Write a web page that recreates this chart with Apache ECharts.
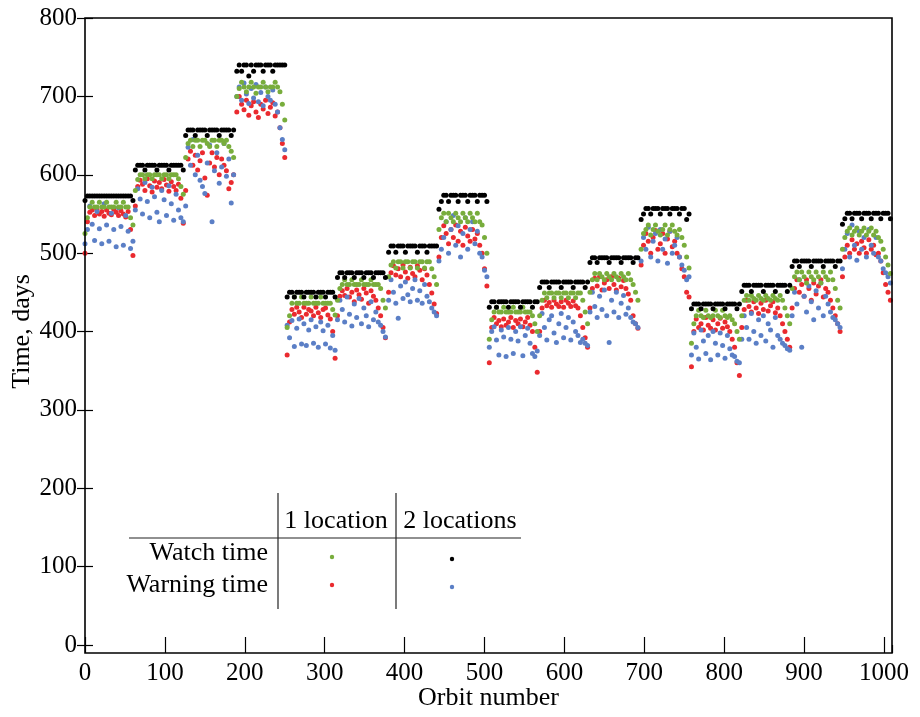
<!DOCTYPE html>
<html lang="en">
<head>
    <meta charset="UTF-8">
    <title>Watch and warning time</title>
    <script src="https://cdn.jsdelivr.net/npm/echarts@6.0.0/dist/echarts.min.js"></script>
    <style>
        html, body { margin: 0; padding: 0; background: #fff; }
        #chart { width: 920px; height: 717px; }
    </style>
</head>
<body>
    <div id="chart"></div>
    <script type="text/javascript">
        // orbit number where each block of orbits starts, values read every 3 orbits
        var blockStart = [0, 63, 126, 190, 253, 316, 380, 443, 506, 569, 632, 696, 759, 822, 885, 948];
        var orbitStep = 3;

        // watch time, 2 locations (black)
        var watch2 = [
            [567,573,573,573,573,573,573,573,573,573,573,573,573,573,573,573,573,573,573,573,567],
            [606,612,612,612,606,612,612,612,612,606,612,612,612,612,606,612,612,612,612,612,606],
            [650,657,657,657,650,657,657,657,657,650,657,657,657,657,650,657,657,657,657,650,657],
            [732,740,732,740,740,726,740,732,740,740,740,732,740,740,740,732,740,740,740,740,740],
            [444,450,450,444,450,450,450,444,450,450,450,450,444,450,450,450,444,450,450,450,444],
            [469,475,475,469,475,475,475,469,475,475,475,469,475,475,475,469,475,475,475,475,469],
            [501,509,509,501,509,509,509,501,509,509,509,509,501,509,509,509,501,509,509,509,509],
            [556,566,574,574,566,574,574,574,566,574,574,574,566,574,574,574,566,574,574,574,566],
            [431,438,438,431,438,438,438,438,431,438,438,438,438,431,438,438,438,438,431,438,438],
            [456,463,463,463,456,463,463,463,463,456,463,463,463,463,456,463,463,463,463,456,463],
            [488,494,494,488,494,494,494,494,488,494,494,494,494,488,494,494,494,494,488,494,494],
            [543,550,557,557,550,557,557,557,550,557,557,557,550,557,557,557,550,557,557,543,550],
            [429,435,435,435,429,435,435,435,435,429,435,435,435,435,429,435,435,435,435,429,435],
            [451,459,459,459,451,459,459,459,459,451,459,459,459,459,451,459,459,459,459,451,459],
            [483,490,490,483,490,490,490,490,483,490,490,490,490,483,490,490,490,490,483,490,490],
            [537,544,551,551,544,551,551,551,544,551,551,551,544,551,551,551,544,551,551,551,544]
        ];

        // watch time, 1 location (green)
        var watch1 = [
            [525,545,559,565,559,559,565,559,559,565,559,559,559,565,559,559,565,559,559,545,536],
            [580,594,600,600,595,600,600,595,600,600,600,595,600,600,595,600,600,600,595,585,575],
            [622,640,644,636,644,644,636,644,644,640,636,644,644,636,644,644,640,644,636,630,622],
            [700,710,718,712,706,712,718,712,704,712,712,718,712,706,712,712,718,712,706,690,670],
            [405,420,436,444,436,436,444,436,436,436,444,436,436,436,444,436,436,436,436,428,421],
            [440,455,460,466,460,460,466,460,460,460,466,460,460,460,466,460,460,460,455,440,430],
            [470,485,489,481,489,489,481,489,489,481,489,489,481,489,489,481,489,489,480,470,460],
            [530,545,551,540,551,545,540,551,545,540,551,545,540,551,545,540,551,540,536,520,500],
            [390,415,425,431,425,425,431,425,425,425,431,425,425,425,431,425,425,425,420,410,400],
            [420,440,449,443,449,449,443,449,449,443,449,449,443,449,449,443,449,449,440,425,410],
            [450,466,474,466,474,470,466,474,470,466,474,470,466,474,470,466,474,466,460,450,440],
            [505,525,530,536,523,530,536,528,523,530,536,523,530,536,528,523,530,520,510,495,481],
            [385,410,420,427,420,418,427,420,418,420,427,420,418,427,420,418,420,415,410,400,390],
            [420,440,446,440,446,442,440,446,442,440,446,442,440,446,442,440,446,440,430,420,410],
            [455,470,476,466,476,470,462,476,470,466,476,470,462,476,470,466,476,466,455,440,430],
            [505,520,528,532,523,528,532,523,528,532,523,528,532,523,528,520,515,505,495,485,474]
        ];

        // warning time, 1 location (red)
        var warn1 = [
            [500,540,552,555,548,556,550,553,547,555,551,549,556,552,548,554,550,546,553,530,497],
            [560,585,593,588,580,595,586,578,592,584,590,582,594,587,579,591,585,580,588,570,538],
            [580,620,630,612,625,606,618,628,596,574,615,628,610,622,600,620,612,605,582,590,600],
            [680,700,690,683,695,676,688,693,680,673,690,684,695,678,686,692,675,680,660,640,622],
            [370,412,428,422,431,425,418,431,422,428,426,420,431,424,418,428,430,421,416,400,366],
            [420,445,452,446,455,444,450,438,453,447,441,455,449,436,452,445,440,430,420,405,392],
            [450,475,484,472,480,470,485,476,468,482,474,470,484,478,466,480,472,460,449,435,423],
            [495,520,535,525,512,530,520,536,515,528,510,533,522,515,530,518,525,510,500,480,458],
            [360,405,418,410,414,406,416,408,412,418,405,414,410,416,406,412,418,408,400,380,348],
            [400,430,440,433,437,431,440,435,432,438,431,440,436,432,439,433,430,420,405,392,380],
            [430,455,468,458,470,453,462,466,455,470,460,453,468,457,465,455,448,440,420,410,404],
            [485,510,525,515,500,520,529,505,512,525,500,518,528,508,515,500,495,480,470,450,444],
            [355,400,416,405,410,402,418,408,404,415,402,410,417,404,412,406,400,390,380,360,344],
            [405,428,440,432,425,438,430,423,436,428,440,426,433,438,424,430,420,410,400,390,380],
            [430,455,466,450,460,445,466,455,440,462,448,458,466,444,455,450,440,430,420,410,400],
            [470,495,510,500,517,505,512,500,515,507,500,517,505,510,498,500,490,475,460,450,440]
        ];

        // warning time, 2 locations (blue)
        var warn2 = [
            [512,530,560,537,516,553,531,512,563,536,515,551,530,508,558,534,510,548,528,506,515],
            [555,582,569,550,590,566,545,584,572,552,540,580,568,548,586,563,542,575,555,545,540],
            [560,635,612,645,600,625,593,585,576,615,638,540,605,628,589,610,640,598,620,564,600],
            [700,712,695,717,703,691,710,698,715,693,705,688,712,700,695,708,690,680,660,645,632],
            [408,392,414,381,404,416,384,410,382,402,415,385,406,380,412,401,384,408,379,395,376],
            [415,440,428,412,444,422,407,435,418,442,410,430,420,406,438,415,425,412,408,400,393],
            [440,466,450,436,417,458,442,463,447,438,455,466,440,452,436,460,445,438,430,425,420],
            [490,505,520,540,500,530,548,510,535,495,525,545,505,530,540,512,528,500,495,478,470],
            [380,400,406,389,370,402,393,368,405,390,372,400,388,406,369,395,404,385,372,368,375],
            [395,423,405,389,415,420,398,386,410,423,392,405,418,389,412,400,395,386,390,385,382],
            [425,450,432,418,445,428,453,420,386,440,425,450,418,436,446,422,430,418,412,410,405],
            [490,520,505,533,495,515,525,490,530,505,518,487,528,500,510,520,495,485,478,466,470],
            [370,398,380,365,402,388,372,395,364,400,385,370,398,382,366,395,378,370,368,362,360],
            [390,420,405,390,423,400,385,415,395,420,388,410,402,380,418,395,390,385,382,378,376],
            [420,450,435,466,380,445,425,458,438,415,452,430,462,420,445,435,425,418,415,410,405],
            [480,505,525,495,536,510,491,528,505,520,495,530,510,500,520,495,490,480,475,470,462]
        ];

        var xTicks = { min: 0, max: 1010, interval: 100 };
        var yTicks = { min: 0, max: 800, interval: 100 };

        function toPoints(blocks) {
            var pts = [];
            blocks.forEach(function (vals, b) {
                vals.forEach(function (v, i) {
                    pts.push([blockStart[b] + i * orbitStep, v]);
                });
            });
            return pts;
        }

        var serif = 'Liberation Serif';
        var myChart = echarts.init(document.getElementById('chart'));

        function dotSeries(name, blocks, color) {
            return {
                name: name,
                type: 'scatter',
                data: toPoints(blocks),
                symbolSize: 5,
                itemStyle: { color: color, opacity: 1 },
                emphasis: { disabled: true },
                silent: true
            };
        }

        // plain numbers, no thousands separator
        function plain(v) { return String(v); }

        var tickStyle = { show: true, inside: true, length: 8, lineStyle: { color: '#000', width: 1.2 } };

        var option = {
            animation: false,
            backgroundColor: '#fff',
            // keep the plot rect fixed, labels may sit outside it
            grid: { left: 85, right: 28, top: 18, bottom: 72, containLabel: false, outerBoundsMode: 'none' },
            xAxis: [
                {
                    type: 'value', position: 'bottom', offset: 8,
                    min: xTicks.min, max: xTicks.max, interval: xTicks.interval,
                    axisLine: { show: false }, axisTick: tickStyle, splitLine: { show: false },
                    axisLabel: { color: '#000', fontFamily: serif, fontSize: 25, margin: 8, showMaxLabel: false, formatter: plain },
                    name: 'Orbit number', nameLocation: 'middle', nameGap: 32, nameMoveOverlap: false,
                    nameTextStyle: { color: '#000', fontFamily: serif, fontSize: 26 }
                },
                {
                    type: 'value', position: 'top',
                    min: xTicks.min, max: xTicks.max, interval: xTicks.interval,
                    axisLine: { show: false }, axisTick: tickStyle, splitLine: { show: false },
                    axisLabel: { show: false }
                }
            ],
            yAxis: [
                {
                    type: 'value', position: 'left',
                    min: yTicks.min, max: yTicks.max, interval: yTicks.interval,
                    axisLine: { show: false }, axisTick: tickStyle, splitLine: { show: false },
                    axisLabel: { color: '#000', fontFamily: serif, fontSize: 25, margin: 8, formatter: plain },
                    name: 'Time, days', nameLocation: 'middle', nameGap: 50, nameRotate: 90, nameMoveOverlap: false,
                    nameTextStyle: { color: '#000', fontFamily: serif, fontSize: 26 }
                },
                {
                    type: 'value', position: 'right',
                    min: yTicks.min, max: yTicks.max, interval: yTicks.interval,
                    axisLine: { show: false }, axisTick: tickStyle, splitLine: { show: false },
                    axisLabel: { show: false }
                }
            ],
            series: [
                dotSeries('Warning time, 1 location', warn1, '#ea2a2f'),
                dotSeries('Warning time, 2 locations', warn2, '#5b7fc6'),
                dotSeries('Watch time, 1 location', watch1, '#78ad3c'),
                dotSeries('Watch time, 2 locations', watch2, '#000000')
            ],
            graphic: [
                // plot frame (bottom spine sits a little below 0)
                { type: 'rect', shape: { x: 85, y: 18, width: 807, height: 635 }, style: { fill: 'none', stroke: '#000', lineWidth: 1.6 }, z: 10 },
                // legend table
                { type: 'line', shape: { x1: 278, y1: 493, x2: 278, y2: 609 }, style: { stroke: '#222', lineWidth: 1.2 } },
                { type: 'line', shape: { x1: 396, y1: 493, x2: 396, y2: 609 }, style: { stroke: '#222', lineWidth: 1.2 } },
                { type: 'line', shape: { x1: 129, y1: 538, x2: 521, y2: 538 }, style: { stroke: '#222', lineWidth: 1.2 } },
                { type: 'text', x: 336, y: 521, style: { text: '1 location', font: '26px "Liberation Serif"', fill: '#000', align: 'center', verticalAlign: 'middle' } },
                { type: 'text', x: 460, y: 521, style: { text: '2 locations', font: '26px "Liberation Serif"', fill: '#000', align: 'center', verticalAlign: 'middle' } },
                { type: 'text', x: 268, y: 553, style: { text: 'Watch time', font: '26px "Liberation Serif"', fill: '#000', align: 'right', verticalAlign: 'middle' } },
                { type: 'text', x: 268, y: 585, style: { text: 'Warning time', font: '26px "Liberation Serif"', fill: '#000', align: 'right', verticalAlign: 'middle' } },
                { type: 'circle', shape: { cx: 332, cy: 557, r: 2.2 }, style: { fill: '#78ad3c' } },
                { type: 'circle', shape: { cx: 452, cy: 559, r: 2.2 }, style: { fill: '#000' } },
                { type: 'circle', shape: { cx: 332, cy: 585, r: 2.2 }, style: { fill: '#ea2a2f' } },
                { type: 'circle', shape: { cx: 452, cy: 587, r: 2.2 }, style: { fill: '#5b7fc6' } }
            ]
        };
        myChart.setOption(option);
    </script>
</body>
</html>
